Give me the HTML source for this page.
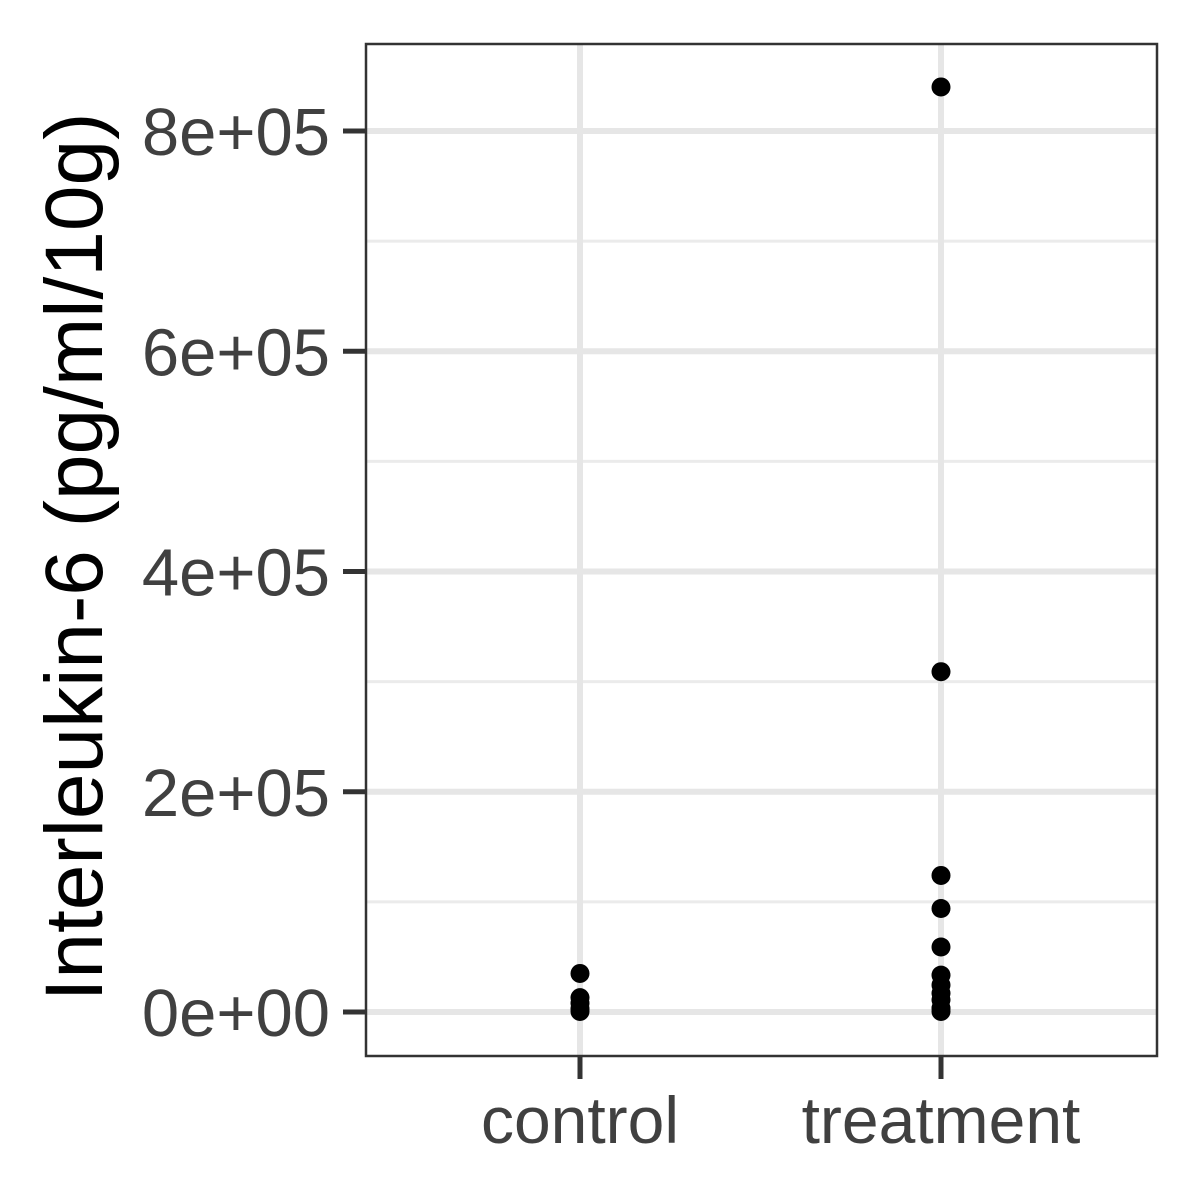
<!DOCTYPE html>
<html><head><meta charset="utf-8"><style>
html,body{margin:0;padding:0;background:#fff;}
svg{display:block;font-family:"Liberation Sans",Arial,sans-serif;}
</style></head><body>
<svg id="chart" width="1200" height="1200" viewBox="0 0 1200 1200">
<rect x="0" y="0" width="1200" height="1200" fill="#fff"/>
<g id="grid"></g>
<g id="points"></g>
<rect x="366" y="44" width="791" height="1012" fill="none" stroke="#333" stroke-width="2.5"/>
<g id="axes"></g>
<text transform="translate(102,557) rotate(-90)" text-anchor="middle" font-size="82" fill="#000">Interleukin-6 (pg/ml/10g)</text>
</svg>
<script>
const categories = ["control","treatment"];
const controlValues = [35000, 13000, 8000, 3000, 500];
const treatmentValues = [840000, 309000, 124000, 94000, 59000, 33500, 24500, 17000, 11000, 3500, 500];
const yTicks = [0, 200000, 400000, 600000, 800000];
const yTickLabels = ["0e+00","2e+05","4e+05","6e+05","8e+05"];
const yMinor = [100000, 300000, 500000, 700000];

const NS = "http://www.w3.org/2000/svg";
const X0 = 366, X1 = 1157;
function y(v){ return 1012 - v * (1012 - 131) / 800000; }
function x(i){ return [580, 941][i]; }
function mk(tag, attrs, parent){ const e = document.createElementNS(NS, tag); for (const k in attrs) e.setAttribute(k, attrs[k]); parent.appendChild(e); return e; }
const grid = document.getElementById("grid"), pts = document.getElementById("points"), axes = document.getElementById("axes");
yMinor.forEach(v => {
  const l = mk("line", {x1:X0, x2:X1, y1:y(v), y2:y(v), stroke:"#ebebeb", "stroke-width":3}, grid);
  
  
});
yTicks.forEach((v, i) => {
  const l = mk("line", {x1:X0, x2:X1, y1:y(v), y2:y(v), stroke:"#e6e6e6", "stroke-width":6}, grid);
  
  
  const t = mk("line", {x1:343, x2:366, y1:y(v), y2:y(v), stroke:"#333", "stroke-width":5}, axes);
  
  
  const tx = mk("text", {x:330, y:y(v) + 24, "text-anchor":"end", "font-size":67, fill:"#404040"}, axes);
  tx.textContent = yTickLabels[i];
  
  
});
categories.forEach((c, i) => {
  const l = mk("line", {x1:x(i), x2:x(i), y1:44, y2:1056, stroke:"#e6e6e6", "stroke-width":6}, grid);
  
  
  const t = mk("line", {x1:x(i), x2:x(i), y1:1056, y2:1079, stroke:"#333", "stroke-width":5}, axes);
  
  
  const tx = mk("text", {x:x(i), y:1143, "text-anchor":"middle", "font-size":66, fill:"#404040"}, axes);
  tx.textContent = c;
  
  
});
[controlValues, treatmentValues].forEach((arr, i) => {
  arr.forEach(v => {
    const p = mk("circle", {cx:x(i), cy:y(v), r:9.5, fill:"#000"}, pts);
    
    
  });
});
</script>
</body></html>
